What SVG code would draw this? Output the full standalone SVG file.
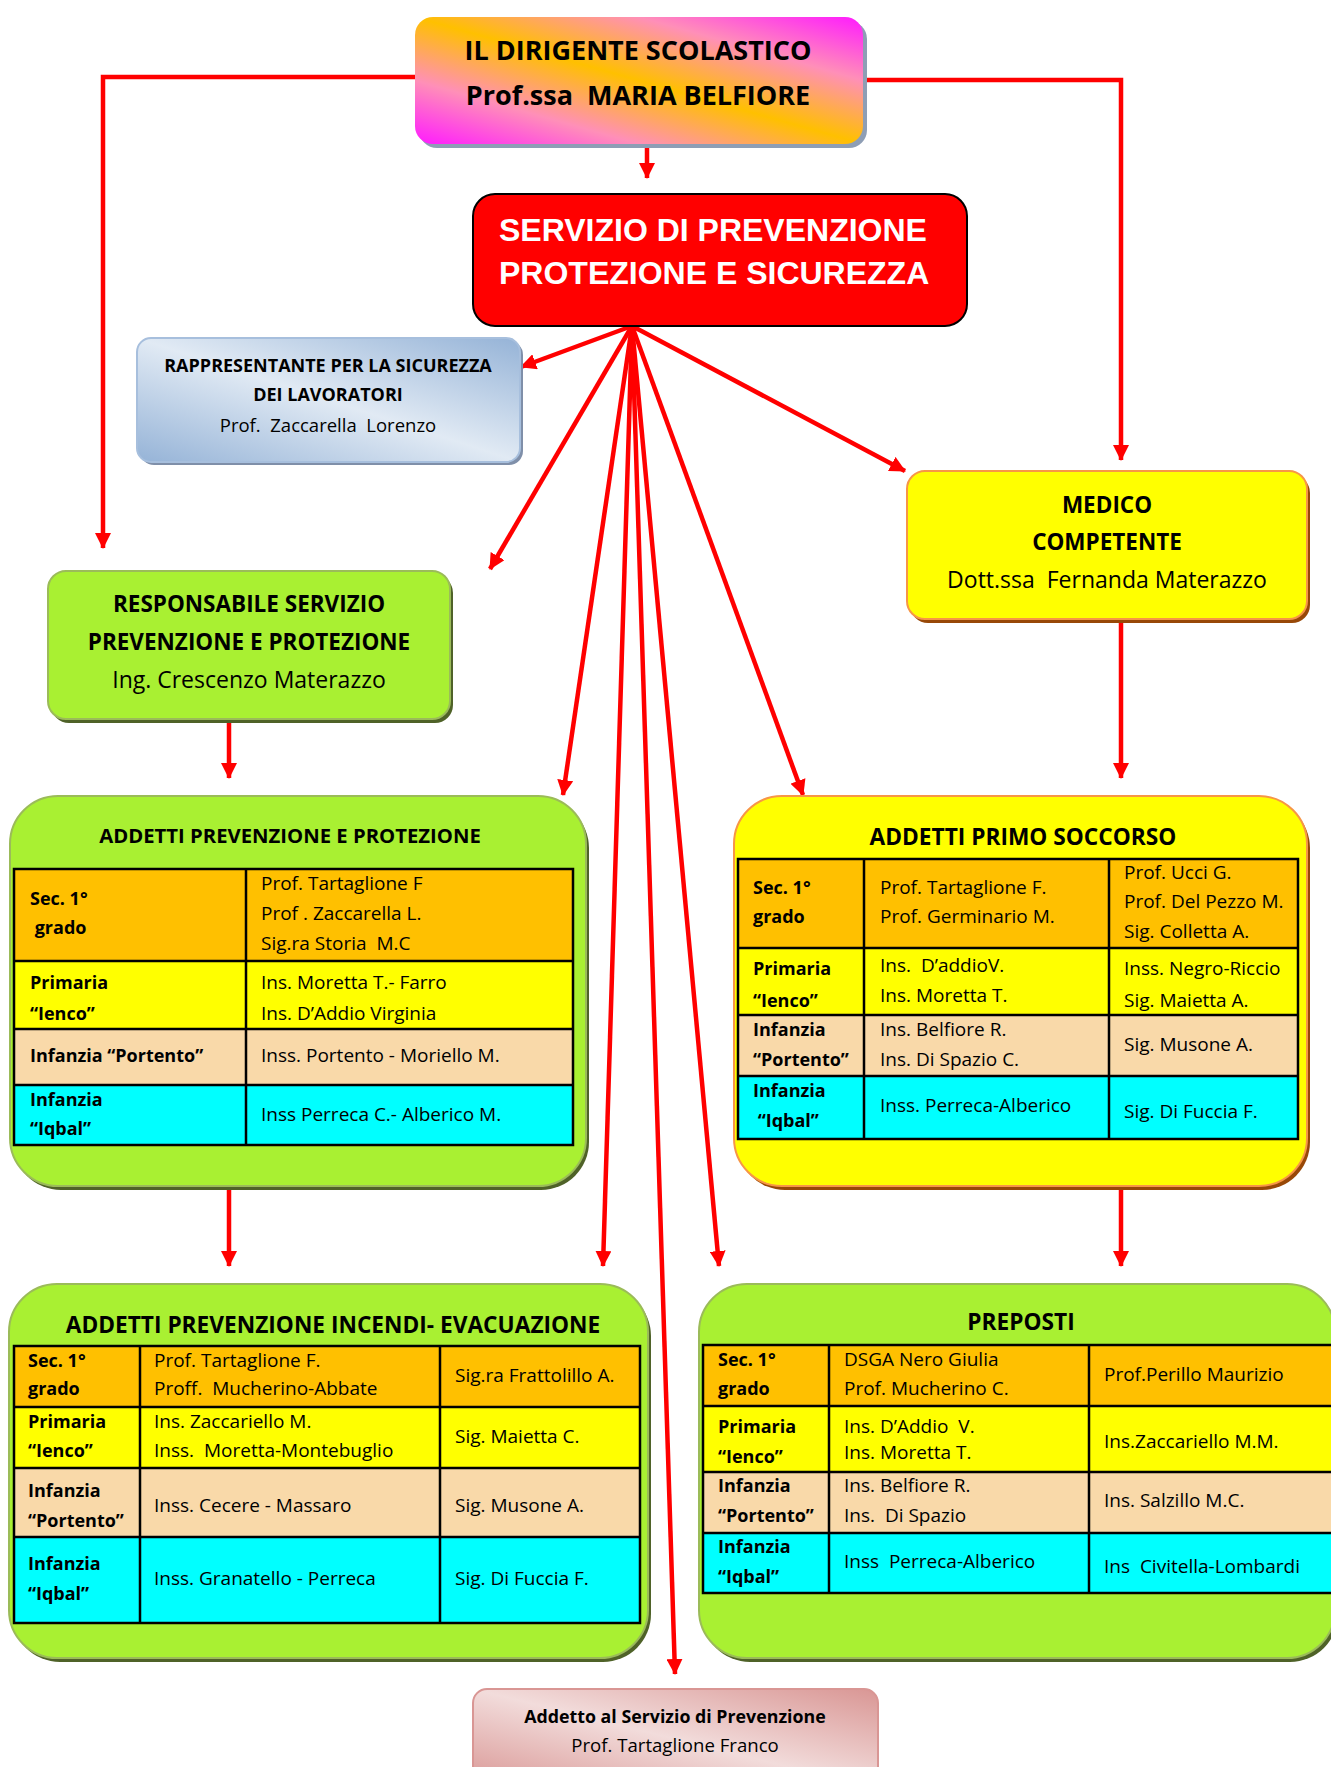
<svg xmlns="http://www.w3.org/2000/svg" width="1331" height="1767" viewBox="0 0 1331 1767" xml:space="preserve">
<style>
text{font-family:"Open Sans","Liberation Sans",sans-serif;fill:#000;white-space:pre}
.b{font-weight:bold}
.t text{font-size:19px}
.t text.b{font-size:18px}
.c{text-anchor:middle}
.ttl{font-size:22.7px;font-weight:bold;text-anchor:middle}
.grid{fill:none;stroke:#000;stroke-width:2.5}
.or{fill:#FFC000}.ye{fill:#FFFF00}.be{fill:#F9D9A9}.cy{fill:#00FFFF}
.gbox{fill:#A9F032;stroke:#9BBB59;stroke-width:2}
.gsh{fill:#4F6228}
.ybox{fill:#FFFF00;stroke:#F79646;stroke-width:2}
.ysh{fill:#984807}
.conn{fill:none;stroke:#FF0000;stroke-width:4.5;marker-end:url(#ah)}
</style>
<defs>
<marker id="ah" markerUnits="userSpaceOnUse" markerWidth="16" markerHeight="16" viewBox="0 0 16 16" refX="15" refY="8" orient="auto">
<path d="M0,0 L16,8 L0,16 z" fill="#FF0000"/>
</marker>
<linearGradient id="gDir" x1="0" y1="1" x2="1" y2="0">
<stop offset="0" stop-color="#FF1AFF"/>
<stop offset="0.25" stop-color="#FF8FB8"/>
<stop offset="0.5" stop-color="#FFC000"/>
<stop offset="0.75" stop-color="#FF8FB8"/>
<stop offset="1" stop-color="#FF1AFF"/>
</linearGradient>
<linearGradient id="gRls" x1="0" y1="1" x2="1" y2="0">
<stop offset="0" stop-color="#95B3D7"/>
<stop offset="0.5" stop-color="#E1EAF4"/>
<stop offset="1" stop-color="#95B3D7"/>
</linearGradient>
<linearGradient id="gAdd" x1="0" y1="1" x2="1" y2="0">
<stop offset="0" stop-color="#D99694"/>
<stop offset="0.5" stop-color="#F2DCDB"/>
<stop offset="1" stop-color="#D99694"/>
</linearGradient>
</defs>
<rect width="1331" height="1767" fill="#FFFFFF"/>

<g id="connectors">
<path class="conn" d="M415,77 H103 V548"/>
<path class="conn" d="M863,80 H1121 V460"/>
<path class="conn" d="M647,144 V178"/>
<path class="conn" d="M632,326 L521,367"/>
<path class="conn" d="M632,326 L490,569"/>
<path class="conn" d="M632,326 L563,795"/>
<path class="conn" d="M632,326 L603,1266"/>
<path class="conn" d="M632,326 L675,1674"/>
<path class="conn" d="M632,326 L719,1266"/>
<path class="conn" d="M632,326 L803,795"/>
<path class="conn" d="M632,326 L905,471"/>
<path class="conn" d="M229,719 V778"/>
<path class="conn" d="M1121,619 V778"/>
<path class="conn" d="M229,1186 V1266"/>
<path class="conn" d="M1121,1186 V1266"/>
</g>

<g id="n-dirigente">
<rect x="419" y="21" width="448" height="127" rx="18" fill="#8E9EB5"/>
<rect x="415" y="17" width="448" height="127" rx="18" fill="url(#gDir)"/>
<text class="b c" x="638" y="60" font-size="27">IL DIRIGENTE SCOLASTICO</text>
<text class="b c" x="638" y="105" font-size="27">Prof.ssa  MARIA BELFIORE</text>
</g>

<g id="n-spp">
<rect x="473" y="194" width="494" height="132" rx="22" fill="#FF0000" stroke="#000" stroke-width="2"/>
<text x="499" y="241" font-size="32" font-weight="bold" style="font-family:'Liberation Sans',Arial,sans-serif;fill:#FFFFFF">SERVIZIO DI PREVENZIONE</text>
<text x="499" y="284" font-size="32" font-weight="bold" style="font-family:'Liberation Sans',Arial,sans-serif;fill:#FFFFFF">PROTEZIONE E SICUREZZA</text>
</g>

<g id="n-rls">
<rect x="140" y="341" width="383" height="124" rx="14" fill="#7F8FA9"/>
<rect x="137" y="338" width="383" height="124" rx="14" fill="url(#gRls)" stroke="#A7BFDD" stroke-width="2"/>
<text class="b c" x="328" y="372" font-size="18">RAPPRESENTANTE PER LA SICUREZZA</text>
<text class="b c" x="328" y="401" font-size="18">DEI LAVORATORI</text>
<text class="c" x="328" y="432" font-size="18.5">Prof.  Zaccarella  Lorenzo</text>
</g>

<g id="n-rspp">
<rect x="51" y="575" width="402" height="148" rx="18" class="gsh"/>
<rect x="48" y="571" width="402" height="148" rx="18" class="gbox"/>
<text class="b c" x="249" y="612" font-size="22.5">RESPONSABILE SERVIZIO</text>
<text class="b c" x="249" y="650" font-size="22.5">PREVENZIONE E PROTEZIONE</text>
<text class="c" x="249" y="688" font-size="23">Ing. Crescenzo Materazzo</text>
</g>

<g id="n-medico">
<rect x="910" y="475" width="400" height="148" rx="18" class="ysh"/>
<rect x="907" y="471" width="400" height="148" rx="18" class="ybox"/>
<text class="b c" x="1107" y="513" font-size="22.5">MEDICO</text>
<text class="b c" x="1107" y="550" font-size="22.5">COMPETENTE</text>
<text class="c" x="1107" y="588" font-size="23">Dott.ssa  Fernanda Materazzo</text>
</g>

<g id="n-app">
<rect x="13" y="800" width="576" height="390" rx="48" class="gsh"/>
<rect x="10" y="796" width="576" height="390" rx="48" class="gbox"/>
<text class="ttl" x="290" y="843" style="font-size:20.3px">ADDETTI PREVENZIONE E PROTEZIONE</text>
<rect x="14" y="869" width="559" height="92" class="or"/>
<rect x="14" y="961" width="559" height="68" class="ye"/>
<rect x="14" y="1029" width="559" height="56" class="be"/>
<rect x="14" y="1085" width="559" height="60" class="cy"/>
<path class="grid" d="M14,869 H573 V1145 H14 Z M14,961 H573 M14,1029 H573 M14,1085 H573 M246,869 V1145"/>
<g class="t">
<text class="b" x="30" y="905">Sec. 1°</text>
<text class="b" x="30" y="934"> grado</text>
<text x="261" y="890">Prof. Tartaglione F</text>
<text x="261" y="920">Prof . Zaccarella L.</text>
<text x="261" y="950">Sig.ra Storia  M.C</text>
<text class="b" x="30" y="989">Primaria</text>
<text class="b" x="30" y="1020">“Ienco”</text>
<text x="261" y="989">Ins. Moretta T.- Farro</text>
<text x="261" y="1020">Ins. D’Addio Virginia</text>
<text class="b" x="30" y="1062">Infanzia “Portento”</text>
<text x="261" y="1062">Inss. Portento - Moriello M.</text>
<text class="b" x="30" y="1106">Infanzia</text>
<text class="b" x="30" y="1135">“Iqbal”</text>
<text x="261" y="1121">Inss Perreca C.- Alberico M.</text>
</g>
</g>

<g id="n-aps">
<rect x="737" y="800" width="573" height="390" rx="48" class="ysh"/>
<rect x="734" y="796" width="573" height="390" rx="48" class="ybox"/>
<text class="ttl" x="1023" y="845">ADDETTI PRIMO SOCCORSO</text>
<rect x="738" y="859" width="560" height="89" class="or"/>
<rect x="738" y="948" width="560" height="67" class="ye"/>
<rect x="738" y="1015" width="560" height="61" class="be"/>
<rect x="738" y="1076" width="560" height="63" class="cy"/>
<path class="grid" d="M738,859 H1298 V1139 H738 Z M738,948 H1298 M738,1015 H1298 M738,1076 H1298 M864,859 V1139 M1109,859 V1139"/>
<g class="t">
<text class="b" x="753" y="894">Sec. 1°</text>
<text class="b" x="753" y="923">grado</text>
<text x="880" y="894">Prof. Tartaglione F.</text>
<text x="880" y="923">Prof. Germinario M.</text>
<text x="1124" y="879">Prof. Ucci G.</text>
<text x="1124" y="908">Prof. Del Pezzo M.</text>
<text x="1124" y="938">Sig. Colletta A.</text>
<text class="b" x="753" y="975">Primaria</text>
<text class="b" x="753" y="1007">“Ienco”</text>
<text x="880" y="972">Ins.  D’addioV.</text>
<text x="880" y="1002">Ins. Moretta T.</text>
<text x="1124" y="975">Inss. Negro-Riccio</text>
<text x="1124" y="1007">Sig. Maietta A.</text>
<text class="b" x="753" y="1036">Infanzia</text>
<text class="b" x="753" y="1066">“Portento”</text>
<text x="880" y="1036">Ins. Belfiore R.</text>
<text x="880" y="1066">Ins. Di Spazio C.</text>
<text x="1124" y="1051">Sig. Musone A.</text>
<text class="b" x="753" y="1097">Infanzia</text>
<text class="b" x="753" y="1127"> “Iqbal”</text>
<text x="880" y="1112">Inss. Perreca-Alberico</text>
<text x="1124" y="1118">Sig. Di Fuccia F.</text>
</g>
</g>

<g id="n-api">
<rect x="12" y="1288" width="639" height="374" rx="48" class="gsh"/>
<rect x="9" y="1284" width="639" height="374" rx="48" class="gbox"/>
<text class="ttl" x="333" y="1333">ADDETTI PREVENZIONE INCENDI- EVACUAZIONE</text>
<rect x="14" y="1346" width="626" height="61" class="or"/>
<rect x="14" y="1407" width="626" height="61" class="ye"/>
<rect x="14" y="1468" width="626" height="69" class="be"/>
<rect x="14" y="1537" width="626" height="86" class="cy"/>
<path class="grid" d="M14,1346 H640 V1623 H14 Z M14,1407 H640 M14,1468 H640 M14,1537 H640 M140,1346 V1623 M440,1346 V1623"/>
<g class="t">
<text class="b" x="28" y="1367">Sec. 1°</text>
<text class="b" x="28" y="1395">grado</text>
<text x="154" y="1367">Prof. Tartaglione F.</text>
<text x="154" y="1395">Proff.  Mucherino-Abbate</text>
<text x="455" y="1382">Sig.ra Frattolillo A.</text>
<text class="b" x="28" y="1428">Primaria</text>
<text class="b" x="28" y="1457">“Ienco”</text>
<text x="154" y="1428">Ins. Zaccariello M.</text>
<text x="154" y="1457">Inss.  Moretta-Montebuglio</text>
<text x="455" y="1443">Sig. Maietta C.</text>
<text class="b" x="28" y="1497">Infanzia</text>
<text class="b" x="28" y="1527">“Portento”</text>
<text x="154" y="1512">Inss. Cecere - Massaro</text>
<text x="455" y="1512">Sig. Musone A.</text>
<text class="b" x="28" y="1570">Infanzia</text>
<text class="b" x="28" y="1600">“Iqbal”</text>
<text x="154" y="1585">Inss. Granatello - Perreca</text>
<text x="455" y="1585">Sig. Di Fuccia F.</text>
</g>
</g>

<g id="n-preposti">
<rect x="702" y="1288" width="636" height="374" rx="48" class="gsh"/>
<rect x="699" y="1284" width="636" height="374" rx="48" class="gbox"/>
<text class="ttl" x="1021" y="1330">PREPOSTI</text>
<rect x="703" y="1345" width="632" height="61" class="or"/>
<rect x="703" y="1406" width="632" height="66" class="ye"/>
<rect x="703" y="1472" width="632" height="61" class="be"/>
<rect x="703" y="1533" width="632" height="60" class="cy"/>
<path class="grid" d="M1340,1345 H703 V1593 H1340 M703,1406 H1340 M703,1472 H1340 M703,1533 H1340 M829,1345 V1593 M1089,1345 V1593"/>
<g class="t">
<text class="b" x="718" y="1366">Sec. 1°</text>
<text class="b" x="718" y="1395">grado</text>
<text x="844" y="1366">DSGA Nero Giulia</text>
<text x="844" y="1395">Prof. Mucherino C.</text>
<text x="1104" y="1381">Prof.Perillo Maurizio</text>
<text class="b" x="718" y="1433">Primaria</text>
<text class="b" x="718" y="1463">“Ienco”</text>
<text x="844" y="1433">Ins. D’Addio  V.</text>
<text x="844" y="1459">Ins. Moretta T.</text>
<text x="1104" y="1448">Ins.Zaccariello M.M.</text>
<text class="b" x="718" y="1492">Infanzia</text>
<text class="b" x="718" y="1522">“Portento”</text>
<text x="844" y="1492">Ins. Belfiore R.</text>
<text x="844" y="1522">Ins.  Di Spazio</text>
<text x="1104" y="1507">Ins. Salzillo M.C.</text>
<text class="b" x="718" y="1553">Infanzia</text>
<text class="b" x="718" y="1583">“Iqbal”</text>
<text x="844" y="1568">Inss  Perreca-Alberico</text>
<text x="1104" y="1573">Ins  Civitella-Lombardi</text>
</g>
</g>

<g id="n-addetto">
<rect x="473" y="1689" width="405" height="100" rx="14" fill="url(#gAdd)" stroke="#D99694" stroke-width="2"/>
<text class="b c" x="675" y="1723" font-size="17.8">Addetto al Servizio di Prevenzione</text>
<text class="c" x="675" y="1752" font-size="18.6">Prof. Tartaglione Franco</text>
</g>
</svg>
